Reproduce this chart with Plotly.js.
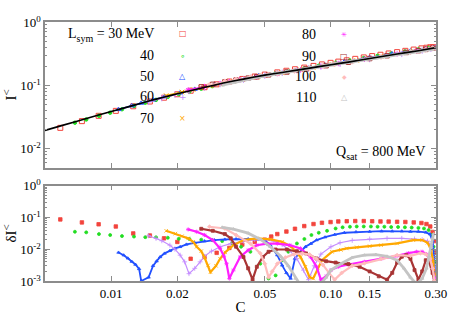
<!DOCTYPE html>
<html><head><meta charset="utf-8">
<script src="https://cdn.plot.ly/plotly-3.0.1.min.js"></script>
<style>html,body{margin:0;padding:0;background:#fff}#chart{width:449px;height:315px}</style>
</head><body><div id="chart"></div>
<script>
// ---------- DATA ----------
const lsym = ['30','40','50','60','70','80','90','100','110'];
const xTickVals = [0.01,0.02,0.05,0.10,0.15,0.30];
const xTickText = ['0.01','0.02','0.05','0.10','0.15','0.30'];
const yTopVals = [0.01,0.1,1];
const yTopExp = ['-2','-1','0'];
const yBotVals = [0.001,0.01,0.1,1];
const yBotExp = ['-3','-2','-1','0'];

// fit line (top panel)
const fitC = [0.005,0.006,0.008,0.01,0.0125,0.015,0.0175,0.02,0.025,0.03,0.035,0.04,0.05,0.06,0.07,0.08,0.1,0.12,0.15,0.2,0.25,0.3];
const fitI = [0.0194,0.0233,0.031,0.0385,0.0478,0.057,0.0655,0.0735,0.0885,0.1025,0.115,0.1255,0.145,0.160,0.174,0.187,0.212,0.233,0.266,0.312,0.353,0.394];

// top panel: I^< per L_sym
const tC30 = [0.00587,0.00736,0.00877,0.0105,0.0126,0.0150,0.0174,0.0200,0.0230,0.0266,0.0302,0.0345,0.0395,0.045,0.05,0.057,0.0627,0.0686,0.0756,0.0833,0.091,0.0996,0.108,0.118,0.129,0.141,0.154,0.168,0.183,0.2,0.218,0.238,0.258,0.272,0.283,0.29,0.295,0.299];
const tI30 = [0.0213,0.0272,0.033,0.0395,0.0467,0.0555,0.0638,0.0723,0.0822,0.0935,0.1038,0.1150,0.1262,0.1378,0.148,0.1603,0.170,0.1796,0.1907,0.2028,0.2141,0.2267,0.237,0.2486,0.2622,0.2763,0.290,0.3042,0.319,0.3348,0.351,0.3675,0.3836,0.393,0.400,0.399,0.397,0.396];
const tC40 = [0.00684,0.0077,0.0088,0.0099,0.0112,0.0127,0.0143,0.016,0.0181,0.0203,0.0227,0.0257,0.0288,0.032,0.039,0.0477,0.056,0.064,0.0757,0.088,0.105,0.122,0.141,0.163,0.188,0.217,0.25,0.278,0.293];
const tI40 = [0.0257,0.0289,0.0331,0.0370,0.0419,0.0474,0.0532,0.0590,0.0658,0.0728,0.0801,0.0887,0.0974,0.1056,0.1220,0.1403,0.1542,0.1671,0.1853,0.2040,0.2273,0.2470,0.2698,0.2922,0.3166,0.3425,0.3696,0.390,0.3932];
const tC50 = [0.0108,0.0124,0.0137,0.0155,0.0175,0.0206,0.024,0.0295,0.037,0.047,0.057,0.0686,0.081,0.094,0.115,0.15,0.19,0.23,0.27,0.29,0.298];
const tI50 = [0.0416,0.0477,0.0524,0.0589,0.0660,0.0761,0.0870,0.1031,0.1220,0.1424,0.1566,0.1731,0.1908,0.2094,0.2355,0.2756,0.3147,0.350,0.381,0.3924,0.393];
const tC60 = [0.0148,0.017,0.0195,0.0226,0.0266,0.0313,0.040,0.050,0.060,0.070,0.079,0.090,0.11,0.15,0.21,0.26,0.285,0.297];
const tI60 = [0.0548,0.0627,0.0713,0.0813,0.0924,0.1045,0.1232,0.1421,0.1578,0.1731,0.1855,0.1986,0.2189,0.2601,0.3134,0.3541,0.3769,0.3909];
const tC70 = [0.0178,0.021,0.0236,0.0257,0.0283,0.0313,0.036,0.046,0.060,0.0727,0.083,0.101,0.131,0.169,0.237,0.275,0.292];
const tI70 = [0.0689,0.0785,0.0857,0.0913,0.0980,0.1052,0.1157,0.1345,0.1573,0.1764,0.1909,0.2150,0.2473,0.2873,0.3497,0.3785,0.3885];
const tC80 = [0.0224,0.0266,0.0313,0.0345,0.0386,0.046,0.057,0.0727,0.09,0.108,0.142,0.2,0.245,0.272,0.29];
const tI80 = [0.0843,0.0956,0.1068,0.1139,0.1220,0.1357,0.1533,0.1756,0.1993,0.2215,0.2585,0.3139,0.3519,0.3726,0.3865];
const tC90 = [0.0257,0.029,0.0329,0.037,0.042,0.046,0.052,0.063,0.077,0.095,0.12,0.15,0.18,0.22,0.25,0.27,0.29];
const tI90 = [0.0945,0.1036,0.1131,0.1209,0.1298,0.1371,0.1468,0.1626,0.1818,0.2046,0.2322,0.2655,0.2942,0.3311,0.3534,0.3702,0.3862];
const tC100 = [0.028,0.0329,0.037,0.043,0.0477,0.052,0.057,0.068,0.080,0.092,0.104,0.125,0.169,0.23,0.27,0.29];
const tI100 = [0.1015,0.1147,0.1228,0.1335,0.1418,0.1482,0.1551,0.1703,0.1857,0.2019,0.2163,0.2378,0.2821,0.3354,0.3659,0.3845];
const tC110 = [0.032,0.036,0.042,0.048,0.053,0.059,0.064,0.069,0.08,0.1,0.125,0.16,0.2,0.23,0.26,0.28,0.292];
const tI110 = [0.1022,0.1123,0.1254,0.1387,0.1478,0.1576,0.1652,0.1725,0.1869,0.2115,0.2372,0.2731,0.3106,0.3371,0.3606,0.3752,0.3759];

// bottom panel: deltaI^< per L_sym
const dC30 = [0.00587,0.00736,0.00877,0.0105,0.0126,0.0150,0.0174,0.0200,0.0230,0.0266,0.0302,0.0345,0.0395,0.0450,0.0500,0.0535,0.0570,0.0627,0.0686,0.0756,0.0833,0.0910,0.0996,0.108,0.118,0.129,0.141,0.154,0.168,0.183,0.200,0.218,0.238,0.258,0.272,0.283,0.290,0.295,0.299];
const d30 = [0.087,0.070,0.061,0.052,0.0315,0.027,0.022,0.017,0.0050,0.0057,0.0077,0.011,0.014,0.017,0.020,0.025,0.030,0.036,0.044,0.0535,0.062,0.068,0.0716,0.075,0.076,0.077,0.077,0.076,0.075,0.074,0.073,0.072,0.070,0.067,0.062,0.052,0.035,0.018,0.008];
const dC40 = [0.00684,0.0077,0.0088,0.0099,0.0112,0.0127,0.0143,0.0160,0.0181,0.0203,0.0227,0.0257,0.0288,0.0320,0.0355,0.0390,0.0430,0.0477,0.052,0.056,0.060,0.064,0.070,0.0757,0.0815,0.088,0.096,0.105,0.113,0.122,0.131,0.141,0.152,0.163,0.175,0.188,0.202,0.217,0.233,0.250,0.265,0.278,0.287,0.293,0.298];
const d40 = [0.0355,0.034,0.030,0.028,0.026,0.025,0.024,0.0237,0.023,0.0213,0.021,0.020,0.0194,0.018,0.0155,0.012,0.0083,0.0035,0.0012,0.0015,0.0045,0.0083,0.0152,0.021,0.028,0.033,0.038,0.045,0.049,0.051,0.052,0.052,0.052,0.051,0.051,0.050,0.050,0.049,0.048,0.047,0.045,0.040,0.028,0.012,0.004];
const dC50 = [0.0108,0.0114,0.0119,0.0124,0.0129,0.0134,0.0137,0.0148,0.0155,0.0161,0.0167,0.0175,0.0185,0.0195,0.0206,0.022,0.024,0.0266,0.0295,0.0329,0.037,0.042,0.047,0.050,0.053,0.057,0.060,0.0627,0.0655,0.0686,0.0727,0.0765,0.081,0.086,0.094,0.104,0.115,0.13,0.15,0.17,0.19,0.21,0.23,0.25,0.27,0.282,0.29,0.295,0.298];
const d50 = [0.0079,0.0065,0.0052,0.0041,0.0033,0.0024,0.0010,0.0013,0.0030,0.0042,0.0057,0.0074,0.0089,0.0106,0.0119,0.0142,0.0159,0.018,0.0194,0.0204,0.021,0.021,0.0205,0.019,0.0134,0.0065,0.0031,0.0018,0.0012,0.0051,0.0083,0.0119,0.015,0.0194,0.024,0.029,0.033,0.035,0.036,0.037,0.037,0.037,0.036,0.036,0.034,0.030,0.018,0.006,0.0015];
const dC60 = [0.0148,0.016,0.017,0.0185,0.0195,0.0206,0.0216,0.0226,0.024,0.0254,0.0266,0.0286,0.0313,0.035,0.040,0.045,0.050,0.055,0.060,0.065,0.070,0.075,0.079,0.084,0.090,0.100,0.110,0.125,0.15,0.18,0.21,0.24,0.26,0.275,0.285,0.292,0.297];
const d60 = [0.0266,0.022,0.0185,0.0134,0.010,0.0065,0.004,0.0017,0.0025,0.004,0.006,0.0087,0.012,0.015,0.018,0.020,0.020,0.018,0.014,0.009,0.005,0.0022,0.0011,0.003,0.007,0.012,0.016,0.019,0.021,0.022,0.022,0.021,0.020,0.018,0.013,0.005,0.0015];
const dC70 = [0.0178,0.0196,0.021,0.0224,0.0236,0.0245,0.0257,0.0266,0.0276,0.0283,0.030,0.0313,0.033,0.036,0.040,0.046,0.053,0.060,0.066,0.0727,0.0765,0.080,0.083,0.087,0.091,0.101,0.111,0.118,0.131,0.15,0.169,0.2,0.237,0.26,0.275,0.285,0.292,0.297];
const d70 = [0.038,0.031,0.0257,0.022,0.017,0.012,0.0087,0.0055,0.0031,0.0019,0.003,0.005,0.008,0.0134,0.0194,0.022,0.0205,0.017,0.012,0.0057,0.0028,0.0013,0.0012,0.0025,0.0045,0.0083,0.0095,0.0106,0.0115,0.0125,0.0134,0.0152,0.0194,0.0194,0.016,0.010,0.004,0.0015];
const dC80 = [0.0224,0.0245,0.0266,0.029,0.0313,0.0326,0.0335,0.0345,0.036,0.0386,0.042,0.046,0.051,0.057,0.065,0.0727,0.0808,0.086,0.090,0.095,0.100,0.108,0.12,0.142,0.169,0.2,0.225,0.245,0.26,0.272,0.282,0.29,0.296];
const d80 = [0.042,0.0355,0.028,0.0194,0.0106,0.006,0.0035,0.0012,0.0022,0.0057,0.0093,0.0134,0.015,0.015,0.0134,0.0106,0.0057,0.0028,0.0011,0.0014,0.0022,0.0028,0.0033,0.004,0.005,0.0062,0.0075,0.0083,0.0083,0.007,0.0045,0.0025,0.0012];
const dC90 = [0.0257,0.029,0.0329,0.035,0.037,0.040,0.042,0.044,0.046,0.049,0.052,0.056,0.063,0.070,0.077,0.086,0.095,0.105,0.12,0.135,0.15,0.165,0.18,0.19,0.2,0.21,0.22,0.23,0.24,0.25,0.26,0.27,0.28,0.29,0.296];
const d90 = [0.044,0.038,0.030,0.022,0.012,0.0057,0.0025,0.0011,0.0028,0.0057,0.0083,0.0098,0.0098,0.0087,0.0074,0.0051,0.0042,0.0038,0.0034,0.0028,0.0020,0.0014,0.0011,0.0018,0.0038,0.0058,0.0065,0.005,0.0022,0.0011,0.002,0.0045,0.004,0.0018,0.001];
const dC100 = [0.028,0.0329,0.037,0.043,0.0477,0.050,0.052,0.054,0.057,0.062,0.068,0.074,0.080,0.086,0.092,0.098,0.104,0.112,0.125,0.142,0.169,0.2,0.23,0.255,0.27,0.282,0.29,0.296];
const d100 = [0.051,0.045,0.028,0.015,0.0074,0.0035,0.0013,0.002,0.0035,0.0055,0.007,0.0074,0.0068,0.005,0.0032,0.0018,0.0011,0.0018,0.003,0.0036,0.005,0.0065,0.0062,0.0075,0.007,0.005,0.0025,0.001];
const dC110 = [0.032,0.036,0.042,0.048,0.053,0.059,0.064,0.069,0.074,0.080,0.088,0.095,0.1,0.111,0.125,0.142,0.16,0.18,0.2,0.215,0.23,0.245,0.26,0.272,0.28,0.286,0.29,0.293];
const d110 = [0.049,0.043,0.032,0.020,0.012,0.006,0.003,0.0012,0.0006,0.0005,0.0007,0.0013,0.0022,0.0035,0.0055,0.0065,0.0068,0.006,0.0045,0.0025,0.0013,0.0008,0.0012,0.0025,0.006,0.012,0.022,0.030];

// ---------- STYLE ----------
const topSets = [[tC30,tI30],[tC40,tI40],[tC50,tI50],[tC60,tI60],[tC70,tI70],[tC80,tI80],[tC90,tI90],[tC100,tI100],[tC110,tI110]];
const botSets = [[dC30,d30],[dC40,d40],[dC50,d50],[dC60,d60],[dC70,d70],[dC80,d80],[dC90,d90],[dC100,d100],[dC110,d110]];
const colors  = ['#f2443c','#22dd22','#2250ff','#c48cff','#ffa800','#ff20ff','#a83535','#ffbcbc','#c4c4c4'];
const symTop  = ['square-open','circle','triangle-up-open','cross-thin-open','x-thin-open','asterisk-open','square-open','diamond','triangle-up-open'];
const symBot  = ['square','circle','triangle-up','cross-thin-open','x-thin-open','asterisk-open','square','diamond','triangle-up'];
const sizeTop = [5,3.5,4.5,4.5,4.5,4.5,4.5,4,4.5];
const lineTop = [0,0,1.5,1.2,1.5,1.5,1.5,1.5,3.5];
const sizeBot = [3.5,3,3,3.5,3.5,3.5,3,3,3];
const lineBot = [0,0,1.8,1.2,2.2,2.2,2.2,2.2,2.8];
const legSym  = ['□','∘','△','+','×','✳','□','◆','△'];
const legSize = [8,9,8,9,8,7,8,6,8];

// explicit-size super/subscripts
const sup = (s, fs) => '<span style="font-size:' + fs + 'px;baseline-shift:' + Math.round(fs*0.55) + 'px">' + s + '</span>';
const sub = (s, fs) => '<span style="font-size:' + fs + 'px;baseline-shift:-' + Math.round(fs*0.35) + 'px">' + s + '</span>';

const traces = [];
for (let i = 0; i < lsym.length; i++) {
  const lt = lineTop[i];
  traces.push({
    x: topSets[i][0], y: topSets[i][1], xaxis:'x', yaxis:'y', type:'scatter',
    mode: lt ? 'lines+markers' : 'markers', name: lsym[i],
    line:{color:colors[i], width:lt},
    marker:{symbol:symTop[i], color:colors[i], size:sizeTop[i], line:{color:colors[i], width:1}},
    showlegend:false, hoverinfo:'skip'
  });
}
traces.push({x:fitC, y:fitI, xaxis:'x', yaxis:'y', type:'scatter', mode:'lines',
  line:{color:'#000', width:1.6, shape:'spline', smoothing:0.6}, showlegend:false, hoverinfo:'skip'});
for (let i = 0; i < lsym.length; i++) {
  const lb = lineBot[i];
  traces.push({
    x: botSets[i][0], y: botSets[i][1], xaxis:'x2', yaxis:'y2', type:'scatter',
    mode: lb ? 'lines+markers' : 'markers', name: lsym[i],
    line:{color:colors[i], width:lb},
    marker:{symbol:symBot[i], color:colors[i], size:sizeBot[i], line:{color:colors[i], width:0.8}},
    showlegend:false, hoverinfo:'skip'
  });
}

const axCol = '#8c8c8c';
const serif = 'Liberation Serif, Times New Roman, serif';
const tickFont = {family:serif, size:13, color:'#000'};
const titleFont = {family:serif, size:15, color:'#000'};
const baseAx = {type:'log', showline:true, linecolor:axCol, linewidth:1.5, mirror:'ticks',
  ticks:'inside', ticklen:5, tickwidth:1, tickcolor:axCol, showgrid:false, zeroline:false, tickfont:tickFont};
const minorTop = [0.006,0.007,0.008,0.009,0.02,0.03,0.04,0.05,0.06,0.07,0.08,0.09,0.2,0.3,0.4,0.5,0.6,0.7,0.8,0.9];
const minorBot = [0.002,0.003,0.004,0.005,0.006,0.007,0.008,0.009,0.02,0.03,0.04,0.05,0.06,0.07,0.08,0.09,0.2,0.3,0.4,0.5,0.6,0.7,0.8,0.9];
const xr = [Math.log10(0.005), Math.log10(0.3)+0.0008];

const ann = [];
function txt(text, x, y, xa, size, extra) {
  ann.push(Object.assign({text:text, x:x, y:y, xref:'paper', yref:'paper', xanchor:xa, yanchor:'middle',
    showarrow:false, font:{family:serif, size:size, color:'#000'}}, extra||{}));
}
// legend labels
const legX = [0.284,0.284,0.284,0.284,0.284,0.697,0.697,0.697,0.697];
const legY = [0.950,0.869,0.789,0.712,0.628,0.950,0.867,0.789,0.708];
const legMX = [0.352,0.352,0.352,0.352,0.352,0.765,0.765,0.765,0.765];
const legMY = [0.954,0.869,0.789,0.712,0.628,0.950,0.867,0.789,0.708];
for (let i = 0; i < lsym.length; i++) {
  txt(i===0 ? 'L' + sub('sym', 10) + ' = 30 MeV' : lsym[i], legX[i], legY[i], 'right', 14);
  ann.push({text:legSym[i], x:legMX[i], y:legMY[i], xref:'paper', yref:'paper', xanchor:'center', yanchor:'middle',
    showarrow:false, font:{family:'DejaVu Sans', size:legSize[i], color:colors[i]}});
}
txt('Q' + sub('sat', 10) + ' = 800 MeV', 0.976, 0.494, 'right', 14);

const layout = {
  width:449, height:315, margin:{l:45, r:13, t:22, b:34},
  paper_bgcolor:'#fff', plot_bgcolor:'#fff', showlegend:false,
  xaxis: Object.assign({}, baseAx, {domain:[0,1], anchor:'y', range:xr, tickmode:'array', tickvals:xTickVals, ticktext:xTickText, showticklabels:false}),
  xaxis2: Object.assign({}, baseAx, {domain:[0,1], anchor:'y2', range:xr, tickmode:'array', tickvals:xTickVals, ticktext:xTickText,
    title:{text:'C', font:titleFont, standoff:3}}),
  yaxis: Object.assign({}, baseAx, {domain:[0.4375,1], anchor:'x', range:[Math.log10(0.005), 0.0008],
    tickmode:'array', tickvals:yTopVals, ticktext:yTopExp.map(e => '10' + sup(e, 9)),
    title:{text:'I' + sup('&lt;', 11), font:titleFont, standoff:4},
    minor:{ticks:'inside', ticklen:2.5, tickcolor:axCol, tickwidth:1, tickmode:'array', tickvals:minorTop}}),
  yaxis2: Object.assign({}, baseAx, {domain:[0,0.368], anchor:'x2', range:[-3.0008, 0.0008],
    tickmode:'array', tickvals:yBotVals, ticktext:yBotExp.map(e => '10' + sup(e, 9)),
    title:{text:'δI' + sup('&lt;', 11), font:titleFont, standoff:4},
    minor:{ticks:'inside', ticklen:2.5, tickcolor:axCol, tickwidth:1, tickmode:'array', tickvals:minorBot}}),
  annotations: ann
};
Plotly.newPlot('chart', traces, layout, {displayModeBar:false});
</script>
</body></html>
